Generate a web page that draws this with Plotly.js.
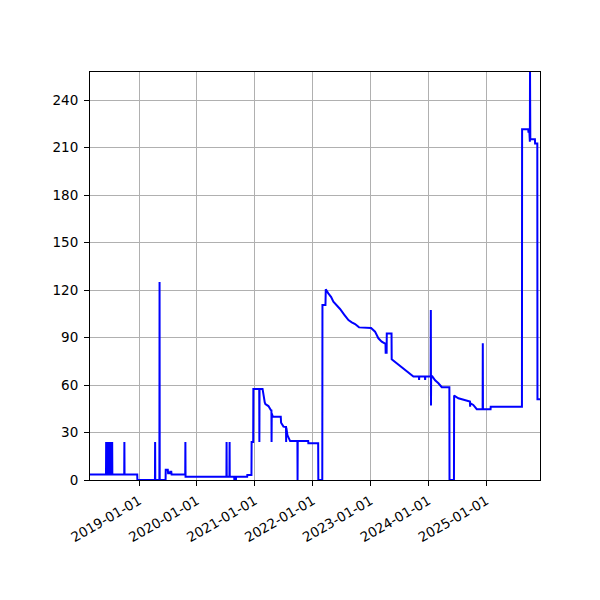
<!DOCTYPE html>
<html>
<head>
<meta charset="utf-8">
<script src="https://cdn.plot.ly/plotly-3.0.1.min.js"></script>
<style>
  html, body { margin: 0; padding: 0; background: #fff; }
  #chart { width: 600px; height: 600px; }
</style>
</head>
<body>
<div id="chart"></div>
<script>
// series; jumps are given as pairs of close dates
const dates = [
  '2018-02-25', '2018-06-06', '2018-06-07', '2018-06-08', '2018-06-15',
  '2018-06-16', '2018-06-17', '2018-06-25', '2018-06-26', '2018-06-27',
  '2018-07-04', '2018-07-05', '2018-07-06', '2018-07-14', '2018-07-15',
  '2018-07-16', '2018-09-29', '2018-09-30', '2018-10-01', '2018-12-20',
  '2018-12-21', '2019-04-11', '2019-04-12', '2019-04-13', '2019-05-09',
  '2019-05-10', '2019-05-11', '2019-06-17', '2019-06-18', '2019-07-01',
  '2019-07-03', '2019-07-14', '2019-07-16', '2019-07-23', '2019-07-25',
  '2019-10-19', '2019-10-20', '2019-10-21', '2020-07-05', '2020-07-06',
  '2020-07-07', '2020-07-24', '2020-07-25', '2020-07-26', '2020-08-23',
  '2020-08-24', '2020-09-03', '2020-09-04', '2020-11-13', '2020-11-14',
  '2020-12-10', '2020-12-11', '2020-12-21', '2020-12-22', '2021-01-28',
  '2021-01-29', '2021-01-30', '2021-02-18', '2021-02-21', '2021-03-04',
  '2021-03-08', '2021-03-27', '2021-04-11', '2021-04-15', '2021-04-16',
  '2021-04-17', '2021-04-24', '2021-06-13', '2021-06-15', '2021-06-30',
  '2021-07-16', '2021-07-17', '2021-07-18', '2021-07-25', '2021-08-11',
  '2021-09-26', '2021-09-27', '2021-09-28', '2021-12-03', '2021-12-04',
  '2022-02-04', '2022-02-05', '2022-03-02', '2022-03-03', '2022-03-22',
  '2022-03-24', '2022-04-09', '2022-04-27', '2022-05-11', '2022-06-02',
  '2022-06-22', '2022-07-18', '2022-08-14', '2022-09-04', '2022-09-25',
  '2022-10-20', '2023-01-04', '2023-01-29', '2023-02-19', '2023-03-12',
  '2023-04-05', '2023-04-06', '2023-04-12', '2023-04-13', '2023-05-13',
  '2023-05-14', '2023-06-15', '2023-07-20', '2023-08-06', '2023-08-27',
  '2023-09-28', '2023-11-02', '2023-11-03', '2023-11-04', '2023-12-10',
  '2023-12-11', '2023-12-12', '2024-01-15', '2024-01-16', '2024-01-17',
  '2024-01-18', '2024-01-25', '2024-02-12', '2024-03-04', '2024-03-25',
  '2024-05-12', '2024-05-13', '2024-06-10', '2024-06-11', '2024-07-08',
  '2024-08-08', '2024-09-09', '2024-09-19', '2024-09-20', '2024-09-21',
  '2024-10-10', '2024-11-01', '2024-12-08', '2024-12-09', '2024-12-10',
  '2025-01-27', '2025-01-28', '2025-08-13', '2025-08-14', '2025-09-22',
  '2025-09-23', '2025-09-29', '2025-09-30', '2025-10-02', '2025-10-03',
  '2025-10-05', '2025-11-03', '2025-11-04', '2025-11-18', '2025-11-19',
  '2025-12-05'
];
const values = [
  3.5, 3.5, 24, 3.5, 3.5,
  24, 3.5, 3.5, 24, 3.5,
  3.5, 24, 3.5, 3.5, 24,
  3.5, 3.5, 24, 3.5, 3.5,
  0, 0, 24, 0, 0,
  125, 0, 0, 6.5, 6.5,
  4.2, 4.2, 5.2, 5.2, 3.4,
  3.4, 24, 2.1, 2.1, 24,
  2.1, 2.1, 24, 2.1, 2.1,
  0, 0, 2.1, 2.1, 3.2,
  3.2, 24, 24, 57.5, 57.5,
  24, 57.5, 57.5, 55, 49,
  48, 46.7, 44.2, 44, 24,
  42, 40, 40, 36.2, 33.7,
  33.5, 24, 33, 28.4, 24.6,
  24.6, 0, 24.6, 24.6, 23.2,
  23.2, 0, 0, 110.5, 110.5,
  120.4, 117.9, 115.5, 112.6, 110.5,
  108, 104.5, 101, 99.6, 98.5,
  96.4, 96, 93.7, 89.5, 87.4,
  86, 80.4, 80.4, 92.6, 92.6,
  76.2, 73.7, 71.2, 70, 68.4,
  65.3, 65.3, 63.2, 65.3, 65.3,
  63.2, 65.3, 65.3, 107.4, 47,
  65.5, 65.5, 63, 61.1, 58.6,
  58.6, 0, 0, 53.3, 51.6,
  50.5, 49.5, 49.5, 46.3, 48.5,
  47.4, 44.7, 44.7, 86.3, 44.7,
  44.7, 46.3, 46.3, 221.5, 221.5,
  220, 220, 213.7, 213.7, 258,
  215.2, 215.2, 212.6, 212.6, 51,
  51
];
const yTicks = [0, 30, 60, 90, 120, 150, 180, 210, 240];
const xTicks = ['2019-01-01', '2020-01-01', '2021-01-01', '2022-01-01',
  '2023-01-01', '2024-01-01', '2025-01-01'];

const trace = {
  type: 'scatter',
  mode: 'lines',
  x: dates,
  y: values,
  line: { color: '#0000ff', width: 2 },
  hoverinfo: 'x+y'
};

const axisStyle = {
  showline: true,
  linecolor: '#000',
  linewidth: 1,
  mirror: true,
  ticks: 'outside',
  ticklen: 5,
  tickwidth: 1,
  tickcolor: '#000',
  showgrid: true,
  gridcolor: '#b0b0b0',
  gridwidth: 1,
  zeroline: false,
  tickfont: { family: 'DejaVu Sans', size: 13.5, color: '#000' }
};

const layout = {
  width: 600,
  height: 600,
  margin: { l: 90, r: 60, t: 72, b: 120 },
  paper_bgcolor: '#fff',
  plot_bgcolor: '#fff',
  showlegend: false,
  xaxis: {
    ...axisStyle,
    type: 'date',
    range: ['2018-02-25', '2025-12-05'],
    tickmode: 'array',
    tickvals: xTicks,
    ticktext: xTicks,
    tickangle: -30,
    ticklabelstandoff: 2
  },
  yaxis: {
    ...axisStyle,
    range: [0, 257.7],
    tickmode: 'array',
    tickvals: yTicks,
    ticktext: yTicks.map(String),
    ticklabelstandoff: 3
  }
};

Plotly.newPlot('chart', [trace], layout, { displayModeBar: false, staticPlot: true });
</script>
</body>
</html>
